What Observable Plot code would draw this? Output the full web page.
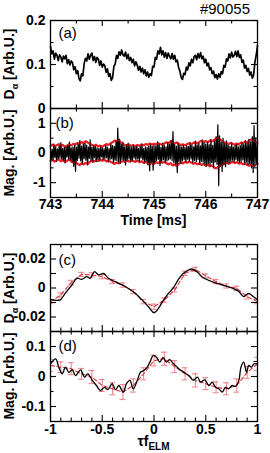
<!DOCTYPE html>
<html><head><meta charset="utf-8">
<script src="https://cdn.jsdelivr.net/npm/d3@7"></script>
<script src="https://cdn.jsdelivr.net/npm/@observablehq/plot@0.6"></script>
<style>
html,body{margin:0;padding:0;background:#fff;}
#chart{position:relative;width:270px;height:453px;overflow:hidden;background:#fff;}
#chart svg{position:absolute;left:0;overflow:visible;}
</style></head><body><div id="chart"></div>
<script>
const shotLabel = "#90055";
const panelLetters = ["(a)", "(b)", "(c)", "(d)"];
const timeStart = 743;
const timeDomain = [743, 747];
const timeTicks = [743, 744, 745, 746, 747];
const timeMinor = [743.5, 744.5, 745.5, 746.5];

// (a) D-alpha signal, sampled every 0.025 ms from 743 ms
const dalphaStep = 0.025;
const dalphaA = [
0.141,0.124,0.131,0.112,0.126,0.121,0.109,0.122,0.117,0.106,0.119,0.113,0.121,0.102,0.111,0.099,0.108,0.104,0.088,0.095,
0.079,0.086,0.068,0.063,0.079,0.074,0.102,0.114,0.108,0.124,0.112,0.121,0.126,0.109,0.118,0.105,0.116,0.112,0.098,0.108,
0.094,0.101,0.097,0.082,0.090,0.073,0.079,0.064,0.070,0.096,0.101,0.121,0.114,0.129,0.121,0.133,0.122,0.119,0.128,0.113,
0.123,0.109,0.116,0.104,0.112,0.097,0.106,0.099,0.087,0.096,0.083,0.092,0.079,0.088,0.074,0.083,0.071,0.079,0.075,0.096,
0.094,0.116,0.112,0.131,0.124,0.139,0.122,0.131,0.117,0.127,0.114,0.126,0.118,0.113,0.125,0.112,0.121,0.106,0.110,0.093,
0.085,0.071,0.066,0.080,0.077,0.094,0.088,0.104,0.097,0.112,0.104,0.118,0.121,0.111,0.125,0.115,0.127,0.113,0.119,0.104,
0.112,0.097,0.103,0.088,0.093,0.079,0.085,0.070,0.077,0.067,0.079,0.071,0.084,0.079,0.098,0.094,0.113,0.108,0.124,0.115,
0.128,0.117,0.121,0.130,0.118,0.131,0.116,0.122,0.105,0.110,0.092,0.098,0.084,0.091,0.076,0.083,0.069,0.076,0.106,0.121,
0.143];
const dalphaTicks = [0, 0.1, 0.2];
const dalphaMinor = [0.05, 0.15];

// (b) magnetic signal: raw (black) every 1/60 ms; red envelope every 0.04 ms
const magStepBlack = 1 / 60;
const magBlack = [
.18,-.22,.12,-.25,.3,-.15,.2,-.28,.14,-.2,.24,-.17,.35,-.21,.16,-.26,.19,-.33,.22,-.14,
.26,-.2,.38,-.24,.17,-.3,.21,-.45,.28,-.62,.2,-.25,.32,-.18,.42,-.27,.23,-.36,.3,-.19,
.33,-.24,.27,-.4,.2,-.18,.44,-.26,.19,-.31,.25,-.16,.22,-.29,.17,-.22,.15,-.27,.21,-.13,
.17,-.23,.14,-.19,.26,-.16,.2,-.3,.15,-.22,.31,-.19,.25,-.34,.22,-.24,.4,-.26,.84,-.3,
.46,-.35,.3,-.22,.37,-.27,.21,-.4,.28,-.24,.33,-.2,.22,-.3,.18,-.26,.28,-.17,.2,-.24,
.25,-.19,.16,-.29,.22,-.17,.3,-.23,.15,-.34,.21,-.27,.19,-.4,.24,-.6,.28,-.31,.23,-.58,
.27,-.36,.22,-.25,.38,-.21,.3,-.42,.19,-.28,.33,-.22,.25,-.32,.21,-.27,.36,-.23,.29,-.2,
.43,-.26,.72,-.33,.28,-.38,.23,-.66,.33,-.29,.25,-.35,.2,-.27,.29,-.22,.19,-.31,.24,-.21,
.22,-.28,.35,-.2,.26,-.33,.21,-.25,.4,-.29,.27,-.22,.33,-.38,.24,-.28,.44,-.31,.36,-.4,
.3,-.44,.38,-.35,.28,-.42,.46,-.32,.26,-.5,.4,-.3,.55,-.38,.95,-1.1,.58,-.44,.36,-.62,
.5,-.4,.32,-.46,.41,-.31,.27,-.37,.22,-.28,.34,-.24,.2,-.3,.26,-.22,.3,-.27,.21,-.33,
.25,-.29,.36,-.23,.28,-.39,.42,-.31,.33,-.41,.46,-.36,.38,-.5,.55,-.66,.92,-.45,.5,-.38,
.3];
const magStepRed = 0.04;
const magRedUpper = [
.24,.28,.22,.26,.3,.23,.27,.21,.25,.29,
.26,.31,.28,.34,.3,.37,.33,.4,.35,.31,
.27,.24,.28,.22,.25,.21,.26,.3,.27,.33,
.36,.42,.38,.45,.35,.3,.27,.25,.28,.24,
.26,.23,.27,.25,.29,.26,.3,.28,.32,.29,
.31,.28,.33,.3,.27,.32,.36,.33,.39,.35,
.32,.36,.3,.27,.29,.26,.3,.33,.29,.34,
.36,.32,.38,.41,.37,.4,.36,.42,.39,.44,
.48,.52,.45,.4,.36,.33,.3,.34,.31,.28,
.32,.29,.35,.33,.38,.36,.42,.46,.41,.37,
.34];
const magRedLower = [
-.27,-.23,-.29,-.25,-.21,-.28,-.24,-.3,-.26,-.22,
-.28,-.33,-.29,-.36,-.41,-.35,-.38,-.33,-.37,-.3,
-.26,-.29,-.24,-.27,-.22,-.26,-.23,-.28,-.25,-.3,
-.33,-.37,-.32,-.35,-.3,-.27,-.3,-.26,-.29,-.25,
-.27,-.3,-.26,-.31,-.28,-.33,-.3,-.35,-.38,-.33,
-.36,-.31,-.34,-.29,-.33,-.3,-.35,-.38,-.34,-.42,
-.39,-.44,-.37,-.32,-.35,-.3,-.33,-.29,-.32,-.36,
-.33,-.38,-.35,-.4,-.37,-.43,-.39,-.45,-.42,-.48,
-.52,-.47,-.43,-.39,-.35,-.32,-.36,-.33,-.3,-.34,
-.31,-.36,-.33,-.38,-.35,-.4,-.43,-.39,-.44,-.4,
-.36];
const magTicks = [-1, 0, 1];
const magMinor = [-0.5, 0.5];

// (c),(d) conditional averages vs tau*f_ELM
const tauDomain = [-1, 1];
const tauTicks = [-1, -0.5, 0, 0.5, 1];
const tauMinor = [-0.9,-0.8,-0.7,-0.6,-0.4,-0.3,-0.2,-0.1,0.1,0.2,0.3,0.4,0.6,0.7,0.8,0.9];
const tauBins = [-1,-0.9,-0.8,-0.7,-0.6,-0.5,-0.4,-0.3,-0.2,-0.1,0,0.1,0.2,0.3,0.4,0.5,0.6,0.7,0.8,0.9,1];

const tauC = [-1,-0.95,-0.906,-0.858,-0.794,-0.746,-0.698,-0.65,-0.617,-0.575,-0.536,-0.488,-0.44,-0.375,-0.278,-0.181,-0.117,-0.053,0,0.043,0.092,0.14,0.188,0.236,0.285,0.333,0.365,0.414,0.462,0.559,0.655,0.752,0.817,0.865,0.913,0.961,1];
const dalphaC = [-0.0078,-0.0085,-0.0082,-0.0037,0.002,0.0067,0.006,0.0078,0.0067,0.0113,0.009,0.01,0.0067,0.0044,0.001,-0.0037,-0.0082,-0.0129,-0.017,-0.014,-0.0083,-0.0037,0.0002,0.006,0.0101,0.0124,0.0131,0.0113,0.0078,0.0044,0.0022,0,-0.0022,-0.006,-0.0037,-0.006,-0.008];
const dalphaCRed = [-0.0094,-0.0048,0.0037,0.0094,0.009,0.0078,0.0044,0.002,-0.0025,-0.0094,-0.0129,-0.0083,-0.0014,0.0101,0.0129,0.0083,0.0044,0.0014,-0.0002,-0.006,-0.0094];
const dalphaCErr = [0.0015,0.0014,0.0016,0.0014,0.0015,0.0014,0.0014,0.0015,0.0014,0.0015,0.0018,0.0015,0.0014,0.0015,0.0014,0.0014,0.0015,0.0014,0.0015,0.0016,0.0015];
const cTicks = [-0.02, -0.01, 0, 0.01, 0.02];
const cLabels = [-0.02, 0, 0.02];

const tauD = [-1,-0.95,-0.92,-0.887,-0.855,-0.823,-0.79,-0.758,-0.71,-0.67,-0.64,-0.597,-0.556,-0.517,-0.478,-0.446,-0.404,-0.372,-0.34,-0.297,-0.266,-0.233,-0.2,-0.162,-0.13,-0.098,-0.065,-0.033,-0.008,0.024,0.056,0.088,0.12,0.152,0.19,0.24,0.29,0.338,0.38,0.42,0.45,0.49,0.53,0.562,0.594,0.626,0.66,0.69,0.72,0.755,0.787,0.82,0.84,0.867,0.894,0.916,0.94,0.965,1];
const magD = [0.042,0.059,0.031,0.009,0.031,0.014,0.022,0.003,0.022,-0.002,0.009,-0.013,-0.03,-0.047,-0.036,-0.044,-0.024,-0.044,-0.03,-0.052,-0.024,-0.013,-0.041,-0.013,0.014,0.02,0.031,0.053,0.07,0.064,0.048,0.064,0.048,0.056,0.042,0.026,0.014,0.003,-0.013,-0.002,-0.019,-0.011,-0.03,-0.019,-0.036,-0.041,-0.052,-0.036,-0.041,-0.03,-0.033,-0.013,0.031,0.048,0.014,0.037,0.031,0.042,0.042];
const magDRed = [0.037,0.031,0.026,0.009,-0.002,-0.03,-0.041,-0.052,-0.03,0.009,0.053,0.059,0.033,0.009,-0.013,-0.024,-0.036,-0.041,-0.03,0.014,0.042];
const magDErr = [0.02,0.018,0.02,0.018,0.022,0.02,0.02,0.025,0.022,0.02,0.018,0.022,0.02,0.02,0.022,0.02,0.018,0.02,0.022,0.02,0.022];
const dTicks = [-0.1, 0, 0.1];
const dMinor = [-0.05, 0.05];

// ---------- drawing ----------
const FONT = '"Liberation Sans", Arial, Helvetica, sans-serif';
const RED = "#ee1c24";
const PINK = "#ef7c84";
const FW = 207;
const chart = document.getElementById("chart");

function frameTicks(xMaj, xMin, yMaj, yMin, fh) {
  const s = {stroke: "black", strokeWidth: 1.1};
  return [
    Plot.tickX(xMaj, {x: d => d, insetTop: fh - 6, ...s}),
    Plot.tickX(xMaj, {x: d => d, insetBottom: fh - 6, ...s}),
    Plot.tickX(xMin, {x: d => d, insetTop: fh - 3.5, ...s}),
    Plot.tickX(xMin, {x: d => d, insetBottom: fh - 3.5, ...s}),
    Plot.tickY(yMaj, {y: d => d, insetRight: FW - 6, ...s}),
    Plot.tickY(yMaj, {y: d => d, insetLeft: FW - 6, ...s}),
    Plot.tickY(yMin, {y: d => d, insetRight: FW - 3.5, ...s}),
    Plot.tickY(yMin, {y: d => d, insetLeft: FW - 3.5, ...s})
  ];
}

function panel(top, opts) {
  const svg = Plot.plot({
    width: 270, height: opts.height,
    marginLeft: 50, marginRight: 13, marginTop: opts.marginTop, marginBottom: opts.marginBottom,
    x: {domain: opts.xDomain, axis: null},
    y: {domain: opts.yDomain, axis: null},
    style: {fontFamily: FONT, fontSize: "14px", fontWeight: "bold", background: "transparent", overflow: "visible", color: "black"},
    marks: opts.marks
  });
  svg.style.top = top + "px";
  chart.appendChild(svg);
  return svg;
}

function yLabel(svg, cy, sym) {
  const t = d3.select(svg).append("text")
    .attr("transform", `translate(14,${cy}) rotate(-90)`)
    .attr("text-anchor", "middle")
    .attr("font-family", FONT).attr("font-size", 14).attr("font-weight", "bold").attr("fill", "black");
  if (sym === "dalpha") {
    t.append("tspan").text("D");
    t.append("tspan").attr("font-size", 9).attr("dy", 4).text("α");
    t.append("tspan").attr("dy", -4).text(" [Arb.U.]");
  } else {
    t.text("Mag. [Arb.U.]");
  }
}

const fmt = d => String(d);
const letter = (s, dx, dy) => Plot.text([s], {frameAnchor: "top-left", dx, dy, fontWeight: "normal", fontSize: 15, fill: "black"});

// (a)
const svgA = panel(0, {
  height: 108, marginTop: 20, marginBottom: 0, xDomain: timeDomain, yDomain: [0, 0.2],
  marks: [
    Plot.lineY(dalphaA, {x: (d, i) => timeStart + i * dalphaStep, y: d => d, stroke: "black", strokeWidth: 1.7}),
    ...frameTicks(timeTicks, timeMinor, dalphaTicks, dalphaMinor, 88),
    Plot.axisY(dalphaTicks, {tickSize: 0, tickPadding: 5, tickFormat: fmt, label: null}),
    Plot.frame({stroke: "black", strokeWidth: 1.3}),
    letter(panelLetters[0], 8, 7)
  ]
});
yLabel(svgA, 64, "dalpha");
d3.select(svgA).append("text").attr("x", 250).attr("y", 14).attr("text-anchor", "end")
  .attr("font-family", FONT).attr("font-size", 15).attr("font-weight", "normal").attr("fill", "black").text(shotLabel);

// (b)
const svgB = panel(100, {
  height: 127, marginTop: 8, marginBottom: 30, xDomain: timeDomain, yDomain: [-1.5, 1.5],
  marks: [
    Plot.lineY(magRedUpper, {x: (d, i) => timeStart + i * magStepRed, y: d => d, stroke: RED, strokeWidth: 2.2}),
    Plot.lineY(magRedLower, {x: (d, i) => timeStart + i * magStepRed, y: d => d, stroke: RED, strokeWidth: 2.2}),
    Plot.lineY(magBlack, {x: (d, i) => timeStart + i * magStepBlack, y: d => d, stroke: "black", strokeWidth: 1.2}),
    Plot.lineY(magRedUpper, {x: (d, i) => timeStart + i * magStepRed, y: d => d, stroke: RED, strokeWidth: 0.9, strokeOpacity: 0.8}),
    Plot.lineY(magRedLower, {x: (d, i) => timeStart + i * magStepRed, y: d => d, stroke: RED, strokeWidth: 0.9, strokeOpacity: 0.8}),
    ...frameTicks(timeTicks, timeMinor, magTicks, magMinor, 89),
    Plot.axisY(magTicks, {tickSize: 0, tickPadding: 5, tickFormat: fmt, label: null}),
    Plot.axisX(timeTicks, {tickSize: 0, tickPadding: 2, tickFormat: fmt, label: null}),
    Plot.frame({stroke: "black", strokeWidth: 1.3}),
    letter(panelLetters[1], 5, 9)
  ]
});
yLabel(svgB, 53, "mag");
d3.select(svgB).append("text").attr("x", 153.5).attr("y", 125).attr("text-anchor", "middle")
  .attr("font-family", FONT).attr("font-size", 14).attr("font-weight", "bold").attr("fill", "black").text("Time [ms]");

// (c)
const cLine = tauC.map((t, i) => ({t, v: dalphaC[i]}));
const cBin = tauBins.map((t, i) => ({t, v: dalphaCRed[i], e: dalphaCErr[i]}));
const capW = 0.028;
const svgC = panel(227, {
  height: 104, marginTop: 17, marginBottom: 0, xDomain: tauDomain, yDomain: [-0.03, 0.03],
  marks: [
    Plot.ruleX(cBin, {x: "t", y1: d => d.v - d.e, y2: d => d.v + d.e, stroke: PINK, strokeWidth: 1, clip: true}),
    Plot.ruleY(cBin, {y: d => d.v - d.e, x1: d => d.t - capW, x2: d => d.t + capW, stroke: PINK, strokeWidth: 1, clip: true}),
    Plot.ruleY(cBin, {y: d => d.v + d.e, x1: d => d.t - capW, x2: d => d.t + capW, stroke: PINK, strokeWidth: 1, clip: true}),
    Plot.line(cBin, {x: "t", y: "v", stroke: "#e2313b", strokeWidth: 1.1, strokeDasharray: "4,2.5"}),
    Plot.line(cLine, {x: "t", y: "v", stroke: "black", strokeWidth: 1.3, curve: "catmull-rom"}),
    ...frameTicks(tauTicks, tauMinor, cTicks, [], 87),
    Plot.axisY(cLabels, {tickSize: 0, tickPadding: 5, tickFormat: fmt, label: null}),
    Plot.frame({stroke: "black", strokeWidth: 1.3}),
    letter(panelLetters[2], 8, 10)
  ]
});
yLabel(svgC, 61, "dalpha");

// (d)
const dLine = tauD.map((t, i) => ({t, v: magD[i]}));
const dBin = tauBins.map((t, i) => ({t, v: magDRed[i], e: magDErr[i]}));
const svgD = panel(323, {
  height: 130, marginTop: 8, marginBottom: 32, xDomain: tauDomain, yDomain: [-0.15, 0.15],
  marks: [
    Plot.ruleX(dBin, {x: "t", y1: d => d.v - d.e, y2: d => d.v + d.e, stroke: PINK, strokeWidth: 1, clip: true}),
    Plot.ruleY(dBin, {y: d => d.v - d.e, x1: d => d.t - capW, x2: d => d.t + capW, stroke: PINK, strokeWidth: 1, clip: true}),
    Plot.ruleY(dBin, {y: d => d.v + d.e, x1: d => d.t - capW, x2: d => d.t + capW, stroke: PINK, strokeWidth: 1, clip: true}),
    Plot.line(dBin, {x: "t", y: "v", stroke: "#e2313b", strokeWidth: 1.1, strokeDasharray: "4,2.5"}),
    Plot.line(dLine, {x: "t", y: "v", stroke: "black", strokeWidth: 1.3, curve: "catmull-rom"}),
    ...frameTicks(tauTicks, tauMinor, dTicks, dMinor, 90),
    Plot.axisY(dTicks, {tickSize: 0, tickPadding: 5, tickFormat: fmt, label: null}),
    Plot.axisX(tauTicks, {tickSize: 0, tickPadding: 3, tickFormat: fmt, label: null}),
    Plot.frame({stroke: "black", strokeWidth: 1.3}),
    letter(panelLetters[3], 8, 9)
  ]
});
yLabel(svgD, 53, "mag");
const tx = d3.select(svgD).append("text").attr("x", 153.5).attr("y", 123).attr("text-anchor", "middle")
  .attr("font-family", FONT).attr("font-size", 14).attr("font-weight", "bold").attr("fill", "black");
tx.append("tspan").text("τf");
tx.append("tspan").attr("font-size", 10).attr("dy", 4).text("ELM");
</script>
</body></html>
